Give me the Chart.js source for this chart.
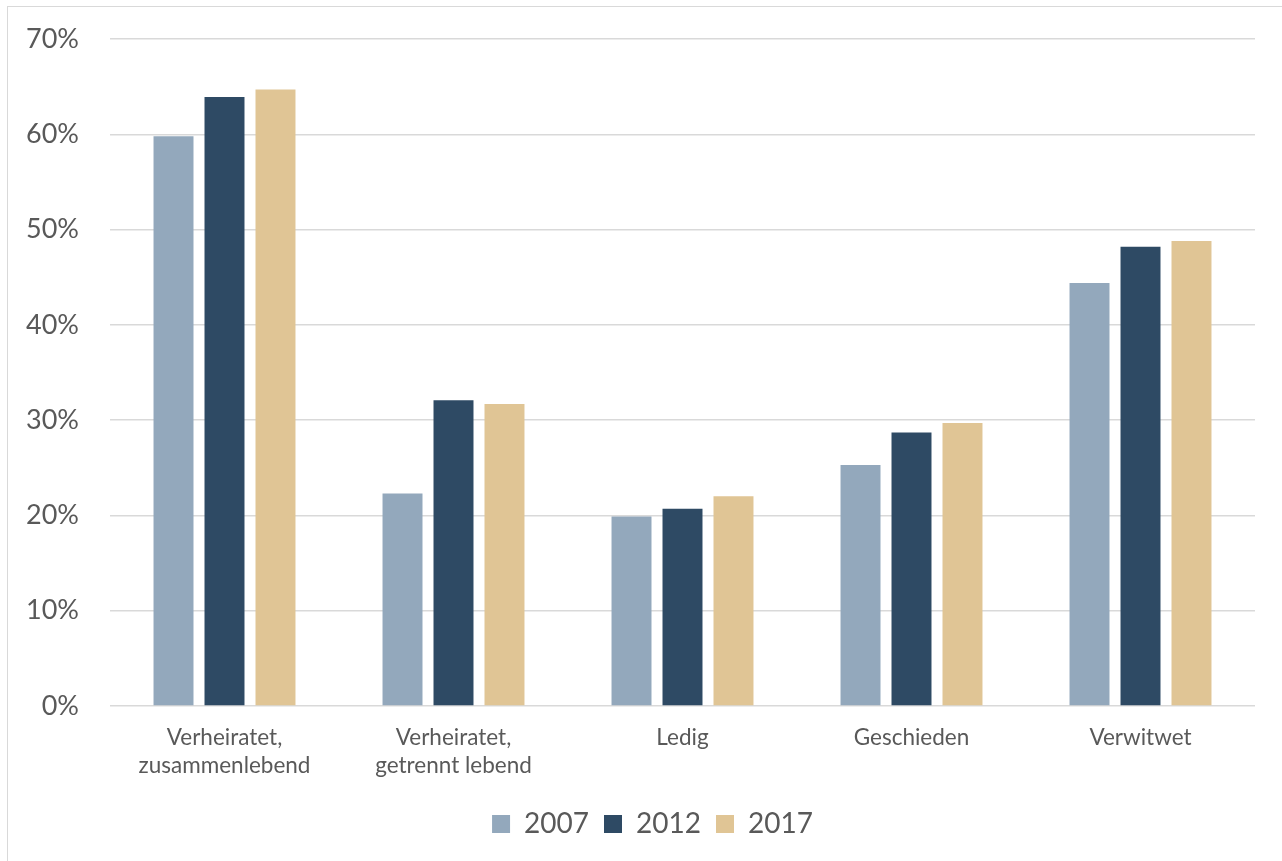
<!DOCTYPE html>
<html>
<head>
<meta charset="utf-8">
<script src="https://cdn.jsdelivr.net/npm/chart.js@4/dist/chart.umd.min.js"></script>
<style>
  html, body { margin: 0; padding: 0; background: #fff; overflow: hidden; }
  #wrap { position: relative; width: 1282px; height: 861px; }
  #frame { position: absolute; left: 7px; top: 6px; width: 1400px; height: 1000px;
           border-left: 1.5px solid #d9d9d9; border-top: 1.5px solid #d9d9d9; }
  #myChart { position: absolute; left: 0; top: 0; }
</style>
</head>
<body>
<div id="wrap">
  <div id="frame"></div>
  <canvas id="myChart" width="1282" height="861"></canvas>
</div>
<script>
// categories and values (in %)
const categories = [
  ['Verheiratet,', 'zusammenlebend'],
  ['Verheiratet,', 'getrennt lebend'],
  'Ledig',
  'Geschieden',
  'Verwitwet'
];
const years = ['2007', '2012', '2017'];
const values2007 = [59.8, 22.3, 19.9, 25.3, 44.4];
const values2012 = [63.9, 32.1, 20.7, 28.7, 48.2];
const values2017 = [64.7, 31.7, 22.0, 29.7, 48.8];
const yTicks = [0, 10, 20, 30, 40, 50, 60, 70];

const colors = ['#93a8bc', '#2e4a64', '#e0c595'];
const textColor = '#595959';
const fontFamily = 'Lato, "Open Sans", sans-serif';

const ctx = document.getElementById('myChart');

// nudge the legend a bit to the right of the canvas centre
const legendShift = {
  id: 'legendShift',
  afterLayout(chart) {
    chart.legend.left += 20;
    chart.legend.right += 20;
  }
};

new Chart(ctx, {
  type: 'bar',
  data: {
    labels: categories,
    datasets: [values2007, values2012, values2017].map((vals, i) => ({
      label: years[i],
      data: vals,
      backgroundColor: colors[i],
      borderWidth: 0,
      categoryPercentage: 0.668,
      barPercentage: 0.784
    }))
  },
  options: {
    responsive: false,
    animation: false,
    layout: {
      padding: { left: 10, top: 39, right: 27, bottom: 13 }
    },
    plugins: {
      tooltip: { enabled: false },
      legend: {
        position: 'bottom',
        labels: {
          color: textColor,
          font: { family: fontFamily, size: 28 },
          boxWidth: 18,
          boxHeight: 18,
          padding: 15
        }
      }
    },
    scales: {
      y: {
        min: 0,
        max: 70,
        afterBuildTicks: (scale) => {
          scale.ticks = yTicks.map(v => ({ value: v }));
        },
        afterFit: (scale) => { scale.width = 100; },
        border: { display: false },
        // invisible tick marks keep the labels away from the plot
        grid: { color: '#d9d9d9', lineWidth: 1.5, drawTicks: true, tickLength: 31, tickColor: 'rgba(0,0,0,0)' },
        ticks: {
          color: textColor,
          font: { family: fontFamily, size: 27 },
          padding: 0,
          callback: (v) => v + '%'
        }
      },
      x: {
        border: { display: false },
        grid: { display: false, drawTicks: false },
        afterFit: (scale) => { scale.height = 89; },
        ticks: {
          color: textColor,
          font: { family: fontFamily, size: 22.5, lineHeight: 1.24 },
          padding: 18,
          maxRotation: 0,
          autoSkip: false
        }
      }
    }
  },
  plugins: [legendShift]
});
</script>
</body>
</html>
